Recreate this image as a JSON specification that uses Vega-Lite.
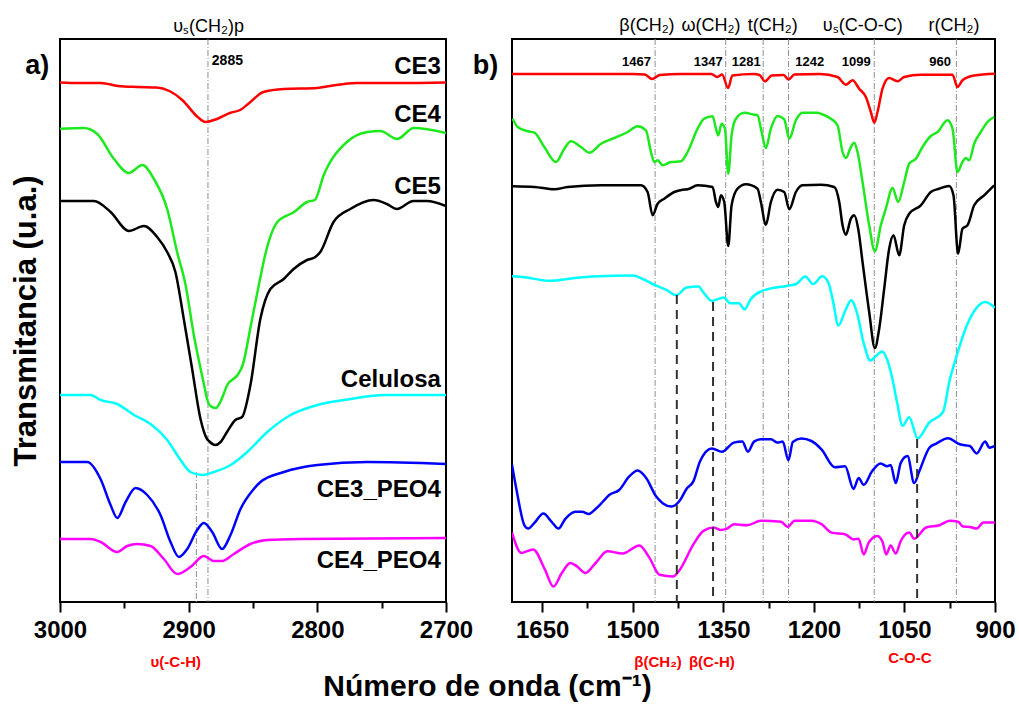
{
  "$schema": "https://vega.github.io/schema/vega-lite/v6.json",
  "autosize": {"type": "pad"},
  "padding": {"left": 9, "top": 15, "right": 5, "bottom": 5},
  "background": "white",
  "bounds": "flush",
  "spacing": 66,
  "config": {
    "view": {"stroke": "black", "strokeWidth": 2},
    "font": "Liberation Sans",
    "axis": {"labelFont": "Liberation Sans", "titleFont": "Liberation Sans", "grid": false, "domain": false}
  },
  "title": {
    "text": "Número de onda (cm⁻¹)",
    "orient": "bottom",
    "anchor": "middle",
    "font": "Liberation Sans",
    "fontSize": 30,
    "fontWeight": "bold",
    "color": "black",
    "offset": 1,
    "dx": -25
  },
  "datasets": {
    "left": [
      {"s":"CE3","x":3000,"y":51.95},{"s":"CE3","x":2985,"y":51.9},{"s":"CE3","x":2968,"y":51.9},{"s":"CE3","x":2955,"y":51.6},{"s":"CE3","x":2940,"y":51.5},{"s":"CE3","x":2925,"y":51.45},{"s":"CE3","x":2915,"y":51.1},{"s":"CE3","x":2905,"y":50.2},{"s":"CE3","x":2893,"y":48.5},{"s":"CE3","x":2887,"y":48.0},{"s":"CE3","x":2878,"y":48.3},{"s":"CE3","x":2868,"y":48.9},{"s":"CE3","x":2860,"y":49.2},{"s":"CE3","x":2852,"y":50.0},{"s":"CE3","x":2842,"y":51.0},{"s":"CE3","x":2826,"y":51.3},{"s":"CE3","x":2800,"y":51.4},{"s":"CE3","x":2790,"y":51.6},{"s":"CE3","x":2770,"y":51.9},{"s":"CE3","x":2735,"y":51.9},{"s":"CE3","x":2700,"y":51.95},
      {"s":"CE4","x":3000,"y":47.33},{"s":"CE4","x":2981.5,"y":47.4},{"s":"CE4","x":2971,"y":46.8},{"s":"CE4","x":2958,"y":44.3},{"s":"CE4","x":2946.5,"y":42.9},{"s":"CE4","x":2936,"y":43.7},{"s":"CE4","x":2927,"y":42.3},{"s":"CE4","x":2916.7,"y":39.3},{"s":"CE4","x":2909,"y":35.0},{"s":"CE4","x":2902.4,"y":31.7},{"s":"CE4","x":2896,"y":26.7},{"s":"CE4","x":2888,"y":21.7},{"s":"CE4","x":2885.7,"y":20.3},{"s":"CE4","x":2883.1,"y":19.6},{"s":"CE4","x":2879,"y":19.4},{"s":"CE4","x":2875.4,"y":20.0},{"s":"CE4","x":2872.8,"y":20.8},{"s":"CE4","x":2870,"y":21.7},{"s":"CE4","x":2862,"y":22.7},{"s":"CE4","x":2858,"y":23.7},{"s":"CE4","x":2851.6,"y":27.7},{"s":"CE4","x":2845,"y":32.0},{"s":"CE4","x":2840,"y":35.0},{"s":"CE4","x":2831,"y":38.0},{"s":"CE4","x":2818,"y":39.0},{"s":"CE4","x":2808,"y":40.0},{"s":"CE4","x":2802,"y":40.2},{"s":"CE4","x":2795,"y":42.7},{"s":"CE4","x":2777,"y":46.0},{"s":"CE4","x":2761,"y":47.0},{"s":"CE4","x":2751,"y":47.1},{"s":"CE4","x":2738,"y":46.3},{"s":"CE4","x":2725,"y":47.4},{"s":"CE4","x":2700,"y":46.9},
      {"s":"CE5","x":3000,"y":40.1},{"s":"CE5","x":2973.6,"y":40.1},{"s":"CE5","x":2960.7,"y":39.0},{"s":"CE5","x":2946.5,"y":37.1},{"s":"CE5","x":2934.8,"y":37.6},{"s":"CE5","x":2924.5,"y":36.5},{"s":"CE5","x":2916.7,"y":35.0},{"s":"CE5","x":2910.3,"y":33.0},{"s":"CE5","x":2903.8,"y":28.3},{"s":"CE5","x":2897.3,"y":23.3},{"s":"CE5","x":2890.8,"y":18.3},{"s":"CE5","x":2885.7,"y":16.3},{"s":"CE5","x":2884.3,"y":16.1},{"s":"CE5","x":2879.2,"y":15.7},{"s":"CE5","x":2875.2,"y":16.0},{"s":"CE5","x":2870.2,"y":17.0},{"s":"CE5","x":2863.7,"y":18.2},{"s":"CE5","x":2858.5,"y":18.5},{"s":"CE5","x":2852,"y":21.7},{"s":"CE5","x":2844.3,"y":28.3},{"s":"CE5","x":2836.5,"y":31.3},{"s":"CE5","x":2826.1,"y":32.3},{"s":"CE5","x":2818.4,"y":33.3},{"s":"CE5","x":2808,"y":34.2},{"s":"CE5","x":2801.6,"y":34.5},{"s":"CE5","x":2797.7,"y":35.0},{"s":"CE5","x":2787.4,"y":38.0},{"s":"CE5","x":2774.4,"y":39.3},{"s":"CE5","x":2756.3,"y":40.2},{"s":"CE5","x":2745.9,"y":39.8},{"s":"CE5","x":2738.2,"y":39.3},{"s":"CE5","x":2725.3,"y":40.1},{"s":"CE5","x":2714.9,"y":40.1},{"s":"CE5","x":2700,"y":39.6},
      {"s":"Celulosa","x":3000,"y":20.7},{"s":"Celulosa","x":2976.2,"y":20.7},{"s":"Celulosa","x":2968.5,"y":20.2},{"s":"Celulosa","x":2955.5,"y":19.8},{"s":"Celulosa","x":2942.5,"y":18.7},{"s":"Celulosa","x":2929.6,"y":17.8},{"s":"Celulosa","x":2916.7,"y":16.2},{"s":"Celulosa","x":2906.3,"y":14.2},{"s":"Celulosa","x":2898.6,"y":13.0},{"s":"Celulosa","x":2889.5,"y":12.7},{"s":"Celulosa","x":2880.4,"y":13.0},{"s":"Celulosa","x":2867.4,"y":13.7},{"s":"Celulosa","x":2854.5,"y":15.0},{"s":"Celulosa","x":2838.9,"y":17.0},{"s":"Celulosa","x":2820.8,"y":18.7},{"s":"Celulosa","x":2800,"y":19.7},{"s":"Celulosa","x":2774.1,"y":20.3},{"s":"Celulosa","x":2748.2,"y":20.7},{"s":"Celulosa","x":2700,"y":20.7},
      {"s":"CE3_PEO4","x":3000,"y":14.0},{"s":"CE3_PEO4","x":2978.9,"y":14.0},{"s":"CE3_PEO4","x":2968.5,"y":12.3},{"s":"CE3_PEO4","x":2960.7,"y":9.7},{"s":"CE3_PEO4","x":2955.5,"y":8.4},{"s":"CE3_PEO4","x":2949,"y":10.0},{"s":"CE3_PEO4","x":2941.3,"y":11.4},{"s":"CE3_PEO4","x":2932.2,"y":10.7},{"s":"CE3_PEO4","x":2921.9,"y":8.7},{"s":"CE3_PEO4","x":2914.1,"y":6.0},{"s":"CE3_PEO4","x":2907.6,"y":4.5},{"s":"CE3_PEO4","x":2901.1,"y":5.3},{"s":"CE3_PEO4","x":2893.4,"y":7.2},{"s":"CE3_PEO4","x":2888.2,"y":7.9},{"s":"CE3_PEO4","x":2881.7,"y":7.0},{"s":"CE3_PEO4","x":2874,"y":5.3},{"s":"CE3_PEO4","x":2867.5,"y":6.7},{"s":"CE3_PEO4","x":2859.7,"y":9.3},{"s":"CE3_PEO4","x":2849.4,"y":11.3},{"s":"CE3_PEO4","x":2844.2,"y":12.0},{"s":"CE3_PEO4","x":2826,"y":13.0},{"s":"CE3_PEO4","x":2800,"y":13.7},{"s":"CE3_PEO4","x":2761.2,"y":14.0},{"s":"CE3_PEO4","x":2700,"y":13.8},
      {"s":"CE4_PEO4","x":3000,"y":6.3},{"s":"CE4_PEO4","x":2976.2,"y":6.3},{"s":"CE4_PEO4","x":2968.5,"y":6.0},{"s":"CE4_PEO4","x":2955.5,"y":5.0},{"s":"CE4_PEO4","x":2947.8,"y":5.6},{"s":"CE4_PEO4","x":2940,"y":5.8},{"s":"CE4_PEO4","x":2929.6,"y":5.6},{"s":"CE4_PEO4","x":2919.3,"y":4.3},{"s":"CE4_PEO4","x":2908.9,"y":2.8},{"s":"CE4_PEO4","x":2898.6,"y":3.5},{"s":"CE4_PEO4","x":2888.2,"y":4.6},{"s":"CE4_PEO4","x":2880.4,"y":4.1},{"s":"CE4_PEO4","x":2874,"y":4.1},{"s":"CE4_PEO4","x":2864.9,"y":4.8},{"s":"CE4_PEO4","x":2852,"y":5.8},{"s":"CE4_PEO4","x":2839,"y":6.2},{"s":"CE4_PEO4","x":2813,"y":6.3},{"s":"CE4_PEO4","x":2700,"y":6.4}
    ],
    "right": [
      {"s":"CE3","x":1700,"y":52.81},{"s":"CE3","x":1600,"y":52.81},{"s":"CE3","x":1500,"y":52.8},{"s":"CE3","x":1480,"y":52.75},{"s":"CE3","x":1468,"y":52.31},{"s":"CE3","x":1455,"y":52.7},{"s":"CE3","x":1420,"y":52.8},{"s":"CE3","x":1370,"y":52.8},{"s":"CE3","x":1360,"y":52.51},{"s":"CE3","x":1352,"y":52.75},{"s":"CE3","x":1342,"y":51.4},{"s":"CE3","x":1335,"y":52.65},{"s":"CE3","x":1300,"y":52.8},{"s":"CE3","x":1290,"y":52.7},{"s":"CE3","x":1281,"y":52.07},{"s":"CE3","x":1270,"y":52.65},{"s":"CE3","x":1250,"y":52.7},{"s":"CE3","x":1242,"y":52.24},{"s":"CE3","x":1232,"y":52.75},{"s":"CE3","x":1190,"y":52.8},{"s":"CE3","x":1160.8,"y":52.5},{"s":"CE3","x":1147,"y":51.73},{"s":"CE3","x":1136,"y":52.17},{"s":"CE3","x":1125,"y":51.33},{"s":"CE3","x":1113.9,"y":50.5},{"s":"CE3","x":1105.6,"y":49.0},{"s":"CE3","x":1100,"y":47.93},{"s":"CE3","x":1094.6,"y":49.0},{"s":"CE3","x":1086.3,"y":51.33},{"s":"CE3","x":1075.3,"y":52.4},{"s":"CE3","x":1061.5,"y":52.07},{"s":"CE3","x":1050.4,"y":52.5},{"s":"CE3","x":1022.8,"y":52.73},{"s":"CE3","x":970.4,"y":52.73},{"s":"CE3","x":962.1,"y":51.5},{"s":"CE3","x":953.9,"y":52.17},{"s":"CE3","x":934.5,"y":52.65},{"s":"CE3","x":900,"y":52.83},
      {"s":"CE4","x":1699,"y":48.33},{"s":"CE4","x":1690.6,"y":47.5},{"s":"CE4","x":1674,"y":47.07},{"s":"CE4","x":1663,"y":46.93},{"s":"CE4","x":1646.5,"y":45.5},{"s":"CE4","x":1627.1,"y":44.0},{"s":"CE4","x":1613.3,"y":45.33},{"s":"CE4","x":1602.3,"y":46.07},{"s":"CE4","x":1585.7,"y":45.5},{"s":"CE4","x":1572,"y":44.93},{"s":"CE4","x":1552.6,"y":45.83},{"s":"CE4","x":1530.6,"y":46.4},{"s":"CE4","x":1508.5,"y":47.0},{"s":"CE4","x":1492,"y":47.57},{"s":"CE4","x":1478.1,"y":47.17},{"s":"CE4","x":1469.9,"y":45.0},{"s":"CE4","x":1464.3,"y":44.0},{"s":"CE4","x":1458.8,"y":44.17},{"s":"CE4","x":1450.5,"y":43.67},{"s":"CE4","x":1436.8,"y":44.0},{"s":"CE4","x":1420.2,"y":44.07},{"s":"CE4","x":1409.2,"y":45.0},{"s":"CE4","x":1392.6,"y":47.33},{"s":"CE4","x":1381.6,"y":48.33},{"s":"CE4","x":1367.8,"y":48.57},{"s":"CE4","x":1362.2,"y":47.33},{"s":"CE4","x":1358.4,"y":46.67},{"s":"CE4","x":1352.9,"y":47.83},{"s":"CE4","x":1347.3,"y":47.33},{"s":"CE4","x":1341.8,"y":42.83},{"s":"CE4","x":1336.3,"y":46.67},{"s":"CE4","x":1329.1,"y":48.33},{"s":"CE4","x":1315.3,"y":48.93},{"s":"CE4","x":1298.8,"y":48.73},{"s":"CE4","x":1293.3,"y":48.67},{"s":"CE4","x":1286.6,"y":47.0},{"s":"CE4","x":1279.5,"y":45.4},{"s":"CE4","x":1271.2,"y":47.33},{"s":"CE4","x":1260.2,"y":48.6},{"s":"CE4","x":1249.1,"y":48.27},{"s":"CE4","x":1240.8,"y":46.33},{"s":"CE4","x":1229.8,"y":48.17},{"s":"CE4","x":1218.8,"y":48.93},{"s":"CE4","x":1194,"y":48.93},{"s":"CE4","x":1188.4,"y":48.83},{"s":"CE4","x":1171.8,"y":48.33},{"s":"CE4","x":1160.8,"y":47.67},{"s":"CE4","x":1152.5,"y":45.0},{"s":"CE4","x":1147,"y":44.4},{"s":"CE4","x":1138.7,"y":45.5},{"s":"CE4","x":1133.2,"y":45.93},{"s":"CE4","x":1127.7,"y":45.0},{"s":"CE4","x":1119.4,"y":42.0},{"s":"CE4","x":1108.4,"y":37.67},{"s":"CE4","x":1099,"y":35.07},{"s":"CE4","x":1089.1,"y":37.67},{"s":"CE4","x":1080.8,"y":39.33},{"s":"CE4","x":1069.7,"y":41.4},{"s":"CE4","x":1060.4,"y":40.0},{"s":"CE4","x":1050.4,"y":42.0},{"s":"CE4","x":1042.2,"y":43.83},{"s":"CE4","x":1031.1,"y":44.33},{"s":"CE4","x":1020.1,"y":45.5},{"s":"CE4","x":1006.3,"y":46.6},{"s":"CE4","x":995.2,"y":47.0},{"s":"CE4","x":978.7,"y":48.17},{"s":"CE4","x":970.4,"y":47.33},{"s":"CE4","x":962.1,"y":43.0},{"s":"CE4","x":953.9,"y":44.0},{"s":"CE4","x":948.3,"y":44.4},{"s":"CE4","x":942.8,"y":44.17},{"s":"CE4","x":934.5,"y":45.83},{"s":"CE4","x":923.5,"y":47.0},{"s":"CE4","x":912.5,"y":48.0},{"s":"CE4","x":901.4,"y":48.5},
      {"s":"CE5","x":1699,"y":41.57},{"s":"CE5","x":1663,"y":41.5},{"s":"CE5","x":1629.9,"y":41.27},{"s":"CE5","x":1607.8,"y":41.5},{"s":"CE5","x":1552.6,"y":41.67},{"s":"CE5","x":1486.4,"y":41.67},{"s":"CE5","x":1475.4,"y":41.0},{"s":"CE5","x":1467.1,"y":38.67},{"s":"CE5","x":1458.8,"y":39.83},{"s":"CE5","x":1447.8,"y":40.33},{"s":"CE5","x":1431.2,"y":41.0},{"s":"CE5","x":1417.4,"y":41.23},{"s":"CE5","x":1409.2,"y":41.27},{"s":"CE5","x":1392.6,"y":41.67},{"s":"CE5","x":1367.8,"y":41.5},{"s":"CE5","x":1362.2,"y":40.0},{"s":"CE5","x":1358.4,"y":39.5},{"s":"CE5","x":1354,"y":40.67},{"s":"CE5","x":1348.5,"y":40.0},{"s":"CE5","x":1341.8,"y":35.6},{"s":"CE5","x":1336.3,"y":39.67},{"s":"CE5","x":1326.4,"y":41.33},{"s":"CE5","x":1312.6,"y":41.77},{"s":"CE5","x":1293.3,"y":41.33},{"s":"CE5","x":1287.8,"y":40.0},{"s":"CE5","x":1279.5,"y":37.73},{"s":"CE5","x":1271.2,"y":40.0},{"s":"CE5","x":1260.2,"y":41.23},{"s":"CE5","x":1249.1,"y":41.0},{"s":"CE5","x":1240.8,"y":39.27},{"s":"CE5","x":1229.8,"y":41.0},{"s":"CE5","x":1218.8,"y":41.67},{"s":"CE5","x":1188.4,"y":41.73},{"s":"CE5","x":1166.3,"y":41.5},{"s":"CE5","x":1158,"y":40.0},{"s":"CE5","x":1152.5,"y":37.67},{"s":"CE5","x":1147,"y":36.73},{"s":"CE5","x":1138.7,"y":38.33},{"s":"CE5","x":1133.2,"y":38.67},{"s":"CE5","x":1126.6,"y":37.33},{"s":"CE5","x":1119.4,"y":34.0},{"s":"CE5","x":1108.4,"y":29.0},{"s":"CE5","x":1099,"y":25.4},{"s":"CE5","x":1091.8,"y":27.33},{"s":"CE5","x":1083.5,"y":31.33},{"s":"CE5","x":1075.3,"y":35.33},{"s":"CE5","x":1068.1,"y":36.67},{"s":"CE5","x":1058.7,"y":34.67},{"s":"CE5","x":1050.4,"y":37.67},{"s":"CE5","x":1042.2,"y":38.83},{"s":"CE5","x":1022.8,"y":39.67},{"s":"CE5","x":1006.3,"y":41.0},{"s":"CE5","x":992.5,"y":41.33},{"s":"CE5","x":975.9,"y":41.6},{"s":"CE5","x":968.8,"y":40.67},{"s":"CE5","x":961.1,"y":34.83},{"s":"CE5","x":953.9,"y":37.33},{"s":"CE5","x":945.6,"y":37.67},{"s":"CE5","x":934.5,"y":39.67},{"s":"CE5","x":918,"y":40.67},{"s":"CE5","x":901.4,"y":41.67},
      {"s":"Celulosa","x":1700,"y":32.57},{"s":"Celulosa","x":1678.9,"y":32.47},{"s":"Celulosa","x":1639.8,"y":32.13},{"s":"Celulosa","x":1595.2,"y":32.4},{"s":"Celulosa","x":1567.2,"y":32.54},{"s":"Celulosa","x":1500.2,"y":32.64},{"s":"Celulosa","x":1483.4,"y":32.3},{"s":"Celulosa","x":1461.1,"y":31.63},{"s":"Celulosa","x":1444.3,"y":31.22},{"s":"Celulosa","x":1427.6,"y":30.68},{"s":"Celulosa","x":1410.8,"y":31.46},{"s":"Celulosa","x":1391.3,"y":31.56},{"s":"Celulosa","x":1382.9,"y":30.95},{"s":"Celulosa","x":1368.9,"y":30.11},{"s":"Celulosa","x":1349.4,"y":30.45},{"s":"Celulosa","x":1338.2,"y":29.87},{"s":"Celulosa","x":1324.2,"y":29.87},{"s":"Celulosa","x":1314.7,"y":29.26},{"s":"Celulosa","x":1304.7,"y":30.28},{"s":"Celulosa","x":1287.9,"y":31.05},{"s":"Celulosa","x":1243.2,"y":31.63},{"s":"Celulosa","x":1229.3,"y":31.8},{"s":"Celulosa","x":1214.2,"y":32.54},{"s":"Celulosa","x":1201.3,"y":31.8},{"s":"Celulosa","x":1186.3,"y":32.57},{"s":"Celulosa","x":1176.2,"y":31.96},{"s":"Celulosa","x":1167.8,"y":29.94},{"s":"Celulosa","x":1159.5,"y":27.64},{"s":"Celulosa","x":1148.3,"y":29.1},{"s":"Celulosa","x":1138.2,"y":30.18},{"s":"Celulosa","x":1128.7,"y":28.93},{"s":"Celulosa","x":1117.5,"y":25.89},{"s":"Celulosa","x":1106.4,"y":24.14},{"s":"Celulosa","x":1095.2,"y":24.71},{"s":"Celulosa","x":1086.8,"y":25.05},{"s":"Celulosa","x":1078.4,"y":24.2},{"s":"Celulosa","x":1070.1,"y":22.35},{"s":"Celulosa","x":1061.7,"y":19.82},{"s":"Celulosa","x":1053.3,"y":17.62},{"s":"Celulosa","x":1042.1,"y":18.47},{"s":"Celulosa","x":1028.2,"y":16.38},{"s":"Celulosa","x":1008.6,"y":17.96},{"s":"Celulosa","x":986.3,"y":18.97},{"s":"Celulosa","x":975.1,"y":22.18},{"s":"Celulosa","x":963.9,"y":24.54},{"s":"Celulosa","x":947.2,"y":27.58},{"s":"Celulosa","x":930.4,"y":29.43},{"s":"Celulosa","x":916.4,"y":30.01},{"s":"Celulosa","x":900.3,"y":29.43},
      {"s":"CE3_PEO4","x":1700,"y":13.74},{"s":"CE3_PEO4","x":1693,"y":11.38},{"s":"CE3_PEO4","x":1679,"y":7.61},{"s":"CE3_PEO4","x":1673.4,"y":7.34},{"s":"CE3_PEO4","x":1662.2,"y":7.95},{"s":"CE3_PEO4","x":1648.2,"y":8.86},{"s":"CE3_PEO4","x":1634.3,"y":8.02},{"s":"CE3_PEO4","x":1623.1,"y":7.34},{"s":"CE3_PEO4","x":1612,"y":8.29},{"s":"CE3_PEO4","x":1595.2,"y":9.03},{"s":"CE3_PEO4","x":1584,"y":9.03},{"s":"CE3_PEO4","x":1572.8,"y":8.8},{"s":"CE3_PEO4","x":1561.6,"y":9.3},{"s":"CE3_PEO4","x":1550,"y":10.0},{"s":"CE3_PEO4","x":1539,"y":10.7},{"s":"CE3_PEO4","x":1522.5,"y":11.2},{"s":"CE3_PEO4","x":1505.8,"y":12.56},{"s":"CE3_PEO4","x":1491.8,"y":13.14},{"s":"CE3_PEO4","x":1477.8,"y":12.4},{"s":"CE3_PEO4","x":1461.1,"y":10.54},{"s":"CE3_PEO4","x":1449.9,"y":9.86},{"s":"CE3_PEO4","x":1435.9,"y":9.54},{"s":"CE3_PEO4","x":1422,"y":10.14},{"s":"CE3_PEO4","x":1410.8,"y":11.33},{"s":"CE3_PEO4","x":1399.6,"y":12.06},{"s":"CE3_PEO4","x":1388.5,"y":14.08},{"s":"CE3_PEO4","x":1368.9,"y":15.36},{"s":"CE3_PEO4","x":1352.2,"y":15.03},{"s":"CE3_PEO4","x":1332.6,"y":15.94},{"s":"CE3_PEO4","x":1318.6,"y":16.04},{"s":"CE3_PEO4","x":1309.2,"y":15.03},{"s":"CE3_PEO4","x":1299.1,"y":16.04},{"s":"CE3_PEO4","x":1287.9,"y":16.27},{"s":"CE3_PEO4","x":1271.2,"y":16.27},{"s":"CE3_PEO4","x":1260,"y":15.94},{"s":"CE3_PEO4","x":1251.6,"y":16.04},{"s":"CE3_PEO4","x":1242.1,"y":14.18},{"s":"CE3_PEO4","x":1234.9,"y":16.0},{"s":"CE3_PEO4","x":1220.9,"y":16.34},{"s":"CE3_PEO4","x":1204.1,"y":16.1},{"s":"CE3_PEO4","x":1187.4,"y":15.26},{"s":"CE3_PEO4","x":1165,"y":13.47},{"s":"CE3_PEO4","x":1148.3,"y":13.57},{"s":"CE3_PEO4","x":1134.3,"y":11.31},{"s":"CE3_PEO4","x":1125.9,"y":12.39},{"s":"CE3_PEO4","x":1117.5,"y":11.72},{"s":"CE3_PEO4","x":1103.6,"y":13.07},{"s":"CE3_PEO4","x":1089.6,"y":13.85},{"s":"CE3_PEO4","x":1078.4,"y":13.58},{"s":"CE3_PEO4","x":1072.8,"y":13.7},{"s":"CE3_PEO4","x":1064.4,"y":11.89},{"s":"CE3_PEO4","x":1056.1,"y":13.91},{"s":"CE3_PEO4","x":1044.9,"y":14.59},{"s":"CE3_PEO4","x":1033.8,"y":11.89},{"s":"CE3_PEO4","x":1025.4,"y":13.07},{"s":"CE3_PEO4","x":1008.6,"y":15.43},{"s":"CE3_PEO4","x":997.4,"y":15.84},{"s":"CE3_PEO4","x":977.9,"y":16.38},{"s":"CE3_PEO4","x":958.3,"y":15.77},{"s":"CE3_PEO4","x":941.6,"y":15.6},{"s":"CE3_PEO4","x":930.4,"y":14.86},{"s":"CE3_PEO4","x":916.4,"y":16.04},{"s":"CE3_PEO4","x":909.2,"y":15.43},{"s":"CE3_PEO4","x":900.3,"y":15.6},
      {"s":"CE4_PEO4","x":1700,"y":6.94},{"s":"CE4_PEO4","x":1684.5,"y":4.91},{"s":"CE4_PEO4","x":1665,"y":5.25},{"s":"CE4_PEO4","x":1645.4,"y":3.23},{"s":"CE4_PEO4","x":1631.5,"y":1.54},{"s":"CE4_PEO4","x":1617.5,"y":2.89},{"s":"CE4_PEO4","x":1603.5,"y":3.9},{"s":"CE4_PEO4","x":1592.4,"y":3.56},{"s":"CE4_PEO4","x":1578.4,"y":2.89},{"s":"CE4_PEO4","x":1561.6,"y":3.9},{"s":"CE4_PEO4","x":1542.1,"y":5.08},{"s":"CE4_PEO4","x":1517,"y":4.85},{"s":"CE4_PEO4","x":1489,"y":5.66},{"s":"CE4_PEO4","x":1472.3,"y":4.41},{"s":"CE4_PEO4","x":1455.5,"y":2.72},{"s":"CE4_PEO4","x":1433.2,"y":2.55},{"s":"CE4_PEO4","x":1422,"y":3.23},{"s":"CE4_PEO4","x":1399.6,"y":5.76},{"s":"CE4_PEO4","x":1382.9,"y":7.11},{"s":"CE4_PEO4","x":1366.1,"y":7.45},{"s":"CE4_PEO4","x":1355,"y":7.21},{"s":"CE4_PEO4","x":1343.8,"y":7.34},{"s":"CE4_PEO4","x":1332.6,"y":7.78},{"s":"CE4_PEO4","x":1310.3,"y":7.68},{"s":"CE4_PEO4","x":1287.9,"y":8.12},{"s":"CE4_PEO4","x":1254.4,"y":8.02},{"s":"CE4_PEO4","x":1243.2,"y":7.51},{"s":"CE4_PEO4","x":1232,"y":8.12},{"s":"CE4_PEO4","x":1204.1,"y":8.12},{"s":"CE4_PEO4","x":1187.4,"y":7.78},{"s":"CE4_PEO4","x":1170.6,"y":6.94},{"s":"CE4_PEO4","x":1148.3,"y":6.77},{"s":"CE4_PEO4","x":1134.3,"y":6.26},{"s":"CE4_PEO4","x":1125.9,"y":6.33},{"s":"CE4_PEO4","x":1117.5,"y":4.75},{"s":"CE4_PEO4","x":1109.2,"y":5.93},{"s":"CE4_PEO4","x":1095.2,"y":6.6},{"s":"CE4_PEO4","x":1086.8,"y":6.1},{"s":"CE4_PEO4","x":1080.1,"y":4.75},{"s":"CE4_PEO4","x":1072.8,"y":5.66},{"s":"CE4_PEO4","x":1064.4,"y":4.85},{"s":"CE4_PEO4","x":1056.1,"y":6.1},{"s":"CE4_PEO4","x":1042.1,"y":6.94},{"s":"CE4_PEO4","x":1033.8,"y":6.33},{"s":"CE4_PEO4","x":1014.2,"y":7.45},{"s":"CE4_PEO4","x":991.9,"y":7.68},{"s":"CE4_PEO4","x":975.1,"y":8.12},{"s":"CE4_PEO4","x":961.1,"y":8.02},{"s":"CE4_PEO4","x":952.8,"y":7.55},{"s":"CE4_PEO4","x":941.6,"y":7.51},{"s":"CE4_PEO4","x":930.4,"y":7.34},{"s":"CE4_PEO4","x":919.3,"y":7.95},{"s":"CE4_PEO4","x":900.3,"y":7.95}
    ]
  },
  "hconcat": [
    {
      "width": 386,
      "height": 563,
      "encoding": {
        "x": {"field": "x", "type": "quantitative", "title": null,
          "scale": {"domain": [2700, 3000], "reverse": true, "nice": false, "zero": false},
          "axis": {"values": [3000, 2950, 2900, 2850, 2800, 2750, 2700], "format": "d",
            "labelExpr": "datum.value % 100 == 0 ? datum.label : ''",
            "labelFontSize": 24, "labelFontWeight": "bold", "labelColor": "black", "labelFlush": false, "labelOverlap": false, "labelPadding": 6,
            "tickColor": "black", "tickWidth": 2,
            "tickSize": {"condition": {"test": "datum.value % 100 == 0", "value": 10}, "value": 6}}},
        "y": {"field": "y", "type": "quantitative",
          "scale": {"domain": [0, 56.3], "nice": false, "zero": false},
          "axis": {"title": "Transmitancia (u.a.)", "labels": false, "ticks": false, "domain": false, "grid": false,
            "titleFontSize": 31, "titleFontWeight": "bold", "titleColor": "black", "titlePadding": 18}}
      },
      "layer": [
        {
          "data": {"values": [{"x": 2885, "y": 56.3, "y2": 0}, {"x": 2894, "y": 13, "y2": 0}]},
          "mark": {"type": "rule", "color": "#8f8f8f", "strokeWidth": 1, "strokeDash": [6, 2, 1, 2]},
          "encoding": {"y2": {"field": "y2"}}
        },
        {
          "data": {"name": "left"},
          "mark": {"type": "line", "strokeWidth": 2.5, "clip": true, "interpolate": "monotone"},
          "encoding": {
            "color": {"field": "s", "type": "nominal", "legend": null,
              "scale": {"domain": ["CE3", "CE4", "CE5", "Celulosa", "CE3_PEO4", "CE4_PEO4"],
                "range": ["#ff0000", "#1ee81e", "#000000", "#00ffff", "#0000ff", "#ff00ff"]}}
          }
        },
        {
          "data": {"values": [
            {"x": 2704, "y": 52.8, "t": "CE3"}, {"x": 2704, "y": 48.0, "t": "CE4"}, {"x": 2704, "y": 40.8, "t": "CE5"},
            {"x": 2704, "y": 21.5, "t": "Celulosa"}, {"x": 2704, "y": 10.5, "t": "CE3_PEO4"}, {"x": 2704, "y": 3.4, "t": "CE4_PEO4"}]},
          "mark": {"type": "text", "align": "right", "baseline": "alphabetic", "font": "Liberation Sans", "fontSize": 24, "fontWeight": "bold", "color": "black"},
          "encoding": {"text": {"field": "t"}}
        },
        {
          "data": {"values": [{"x": 2882, "y": 53.7, "t": "2885"}]},
          "mark": {"type": "text", "align": "left", "baseline": "alphabetic", "font": "Liberation Sans", "fontSize": 14, "fontWeight": "bold", "color": "black"},
          "encoding": {"text": {"field": "t"}}
        },
        {
          "data": {"values": [{"x": 2884.5, "y": 57.0, "t": "υₛ(CH₂)p"}]},
          "mark": {"type": "text", "align": "center", "baseline": "alphabetic", "font": "Liberation Sans", "fontSize": 18, "color": "black"},
          "encoding": {"text": {"field": "t"}}
        },
        {
          "data": {"values": [{"x": 2910, "y": -6.5, "t": "υ(-C-H)"}]},
          "mark": {"type": "text", "align": "center", "baseline": "alphabetic", "font": "Liberation Sans", "fontSize": 15, "fontWeight": "bold", "color": "#ff0000"},
          "encoding": {"text": {"field": "t"}}
        },
        {
          "data": {"values": [{"x": 3027, "y": 52.8, "t": "a)"}]},
          "mark": {"type": "text", "align": "left", "baseline": "alphabetic", "font": "Liberation Sans", "fontSize": 27, "fontWeight": "bold", "color": "black"},
          "encoding": {"text": {"field": "t"}}
        }
      ]
    },
    {
      "width": 483,
      "height": 563,
      "encoding": {
        "x": {"field": "x", "type": "quantitative", "title": null,
          "scale": {"domain": [900, 1700], "reverse": true, "nice": false, "zero": false},
          "axis": {"values": [1650, 1575, 1500, 1425, 1350, 1275, 1200, 1125, 1050, 975, 900], "format": "d",
            "labelExpr": "datum.value % 150 == 0 ? datum.label : ''",
            "labelFontSize": 24, "labelFontWeight": "bold", "labelColor": "black", "labelFlush": false, "labelOverlap": false, "labelPadding": 6,
            "tickColor": "black", "tickWidth": 2,
            "tickSize": {"condition": {"test": "datum.value % 150 == 0", "value": 10}, "value": 6}}},
        "y": {"field": "y", "type": "quantitative",
          "scale": {"domain": [0, 56.3], "nice": false, "zero": false},
          "axis": null}
      },
      "layer": [
        {
          "data": {"values": [{"x": 1463, "y": 56.3, "y2": 0}, {"x": 1346, "y": 56.3, "y2": 0}, {"x": 1284, "y": 56.3, "y2": 0}, {"x": 1242, "y": 56.3, "y2": 0}, {"x": 1100, "y": 56.3, "y2": 0}, {"x": 964, "y": 56.3, "y2": 0}]},
          "mark": {"type": "rule", "color": "#8f8f8f", "strokeWidth": 1, "strokeDash": [6, 2, 1, 2]},
          "encoding": {"y2": {"field": "y2"}}
        },
        {
          "data": {"name": "right"},
          "mark": {"type": "line", "strokeWidth": 2.5, "clip": true, "interpolate": "monotone"},
          "encoding": {
            "color": {"field": "s", "type": "nominal", "legend": null,
              "scale": {"domain": ["CE3", "CE4", "CE5", "Celulosa", "CE3_PEO4", "CE4_PEO4"],
                "range": ["#ff0000", "#1ee81e", "#000000", "#00ffff", "#0000ff", "#ff00ff"]}}
          }
        },
        {
          "data": {"values": [{"x": 1427, "y": 30.7, "y2": 0}, {"x": 1367, "y": 30.0, "y2": 0}, {"x": 1029, "y": 16.3, "y2": 0}]},
          "mark": {"type": "rule", "color": "#333333", "strokeWidth": 2, "strokeDash": [9, 6]},
          "encoding": {"y2": {"field": "y2"}}
        },
        {
          "data": {"values": [{"x": 1470, "y": 53.6, "t": "1467"}, {"x": 1351, "y": 53.6, "t": "1347"}, {"x": 1288, "y": 53.6, "t": "1281"}, {"x": 1183, "y": 53.6, "t": "1242"}, {"x": 1106, "y": 53.6, "t": "1099"}, {"x": 973, "y": 53.6, "t": "960"}]},
          "mark": {"type": "text", "align": "right", "baseline": "alphabetic", "font": "Liberation Sans", "fontSize": 13, "fontWeight": "bold", "color": "black"},
          "encoding": {"text": {"field": "t"}}
        },
        {
          "data": {"values": [{"x": 1476.5, "y": 57.1, "t": "β(CH₂)"}, {"x": 1370.5, "y": 57.1, "t": "ω(CH₂)"}, {"x": 1268, "y": 57.1, "t": "t(CH₂)"}, {"x": 1119, "y": 57.1, "t": "υₛ(C-O-C)"}, {"x": 968, "y": 57.1, "t": "r(CH₂)"}]},
          "mark": {"type": "text", "align": "center", "baseline": "alphabetic", "font": "Liberation Sans", "fontSize": 18, "color": "black"},
          "encoding": {"text": {"field": "t"}}
        },
        {
          "data": {"values": [{"x": 1458, "y": -6.5, "t": "β(CH₂)"}, {"x": 1369, "y": -6.5, "t": "β(C-H)"}, {"x": 1041, "y": -6.1, "t": "C-O-C"}]},
          "mark": {"type": "text", "align": "center", "baseline": "alphabetic", "font": "Liberation Sans", "fontSize": 15, "fontWeight": "bold", "color": "#ff0000"},
          "encoding": {"text": {"field": "t"}}
        },
        {
          "data": {"values": [{"x": 1765, "y": 52.8, "t": "b)"}]},
          "mark": {"type": "text", "align": "left", "baseline": "alphabetic", "font": "Liberation Sans", "fontSize": 27, "fontWeight": "bold", "color": "black"},
          "encoding": {"text": {"field": "t"}}
        }
      ]
    }
  ]
}
